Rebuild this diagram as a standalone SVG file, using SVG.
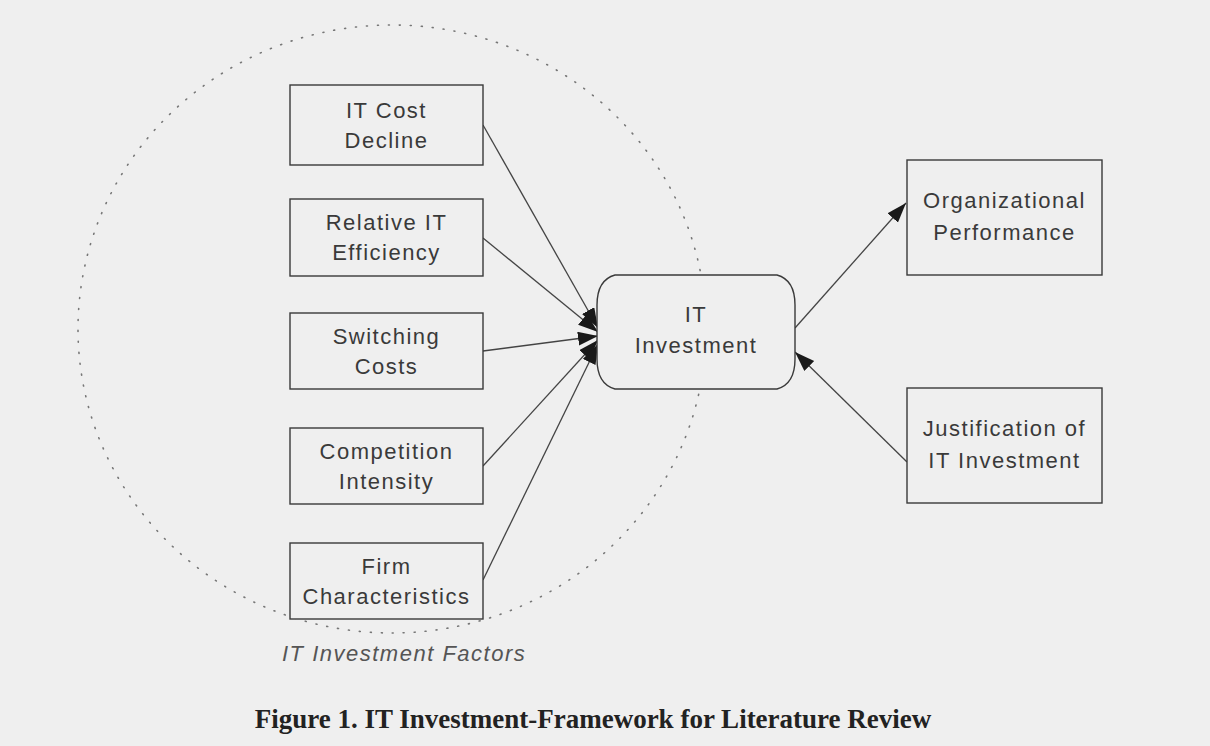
<svg xmlns="http://www.w3.org/2000/svg" width="1210" height="746" viewBox="0 0 1210 746">
  <style>
    .box { fill: #efefef; stroke: #3a3a3a; stroke-width: 1.4; }
    .lbl { font-family: "Liberation Sans", Arial, sans-serif; font-size: 22px; letter-spacing: 1.5px; fill: #3a3a3a; text-anchor: middle; }
    .edge { stroke: #444; stroke-width: 1.3; fill: none; marker-end: url(#arrow); }
    .cap { font-family: "Liberation Sans", Arial, sans-serif; font-size: 22px; font-style: italic; letter-spacing: 1.5px; fill: #555; }
    .title { font-family: "Liberation Serif", "Times New Roman", serif; font-size: 27px; font-weight: bold; fill: #222; text-anchor: middle; }
  </style>
  <defs>
    <marker id="arrow" markerUnits="userSpaceOnUse" markerWidth="22" markerHeight="16" refX="20" refY="7" orient="auto">
      <path d="M0,0 L20,7 L0,14 Z" fill="#1a1a1a"/>
    </marker>
  </defs>
  <rect x="0" y="0" width="1210" height="746" fill="#efefef"/>

  <g id="factors-group">
    <ellipse cx="392" cy="329" rx="314" ry="304" fill="none" stroke="#777" stroke-width="1.6" stroke-dasharray="1 10" stroke-linecap="round"/>
    <text class="cap" x="282" y="661">IT Investment Factors</text>
  </g>

  <g id="connectors">
    <line class="edge" x1="483" y1="125" x2="598" y2="328"/>
    <line class="edge" x1="483" y1="238" x2="598" y2="332"/>
    <line class="edge" x1="483" y1="351" x2="598" y2="336"/>
    <line class="edge" x1="483" y1="466" x2="598" y2="340"/>
    <line class="edge" x1="483" y1="580" x2="598" y2="344"/>
    <line class="edge" x1="795" y1="328" x2="906" y2="203"/>
    <line class="edge" x1="907" y1="462" x2="795" y2="352"/>
  </g>

  <g id="it-cost-decline">
    <rect class="box" x="290" y="85" width="193" height="80"/>
    <text class="lbl" x="386.5" y="118">IT Cost</text>
    <text class="lbl" x="386.5" y="148">Decline</text>
  </g>
  <g id="relative-it-efficiency">
    <rect class="box" x="290" y="199" width="193" height="77"/>
    <text class="lbl" x="386.5" y="230">Relative IT</text>
    <text class="lbl" x="386.5" y="260">Efficiency</text>
  </g>
  <g id="switching-costs">
    <rect class="box" x="290" y="313" width="193" height="76"/>
    <text class="lbl" x="386.5" y="344">Switching</text>
    <text class="lbl" x="386.5" y="374">Costs</text>
  </g>
  <g id="competition-intensity">
    <rect class="box" x="290" y="428" width="193" height="76"/>
    <text class="lbl" x="386.5" y="459">Competition</text>
    <text class="lbl" x="386.5" y="489">Intensity</text>
  </g>
  <g id="firm-characteristics">
    <rect class="box" x="290" y="543" width="193" height="76"/>
    <text class="lbl" x="386.5" y="574">Firm</text>
    <text class="lbl" x="386.5" y="604">Characteristics</text>
  </g>

  <g id="it-investment">
    <path class="box" d="M615,275 H777 Q795,280 795,305 V359 Q795,384 777,389 H615 Q597,384 597,359 V305 Q597,280 615,275 Z"/>
    <text class="lbl" x="696" y="322">IT</text>
    <text class="lbl" x="696" y="353">Investment</text>
  </g>

  <g id="organizational-performance">
    <rect class="box" x="907" y="160" width="195" height="115"/>
    <text class="lbl" x="1004.5" y="208">Organizational</text>
    <text class="lbl" x="1004.5" y="240">Performance</text>
  </g>

  <g id="justification">
    <rect class="box" x="907" y="388" width="195" height="115"/>
    <text class="lbl" x="1004.5" y="436">Justification of</text>
    <text class="lbl" x="1004.5" y="468">IT Investment</text>
  </g>

  <text class="title" x="593" y="728">Figure 1. IT Investment-Framework for Literature Review</text>
</svg>
